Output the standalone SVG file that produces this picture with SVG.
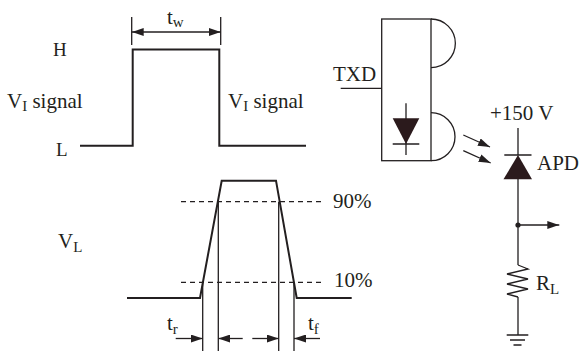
<svg xmlns="http://www.w3.org/2000/svg" width="579" height="351" viewBox="0 0 579 351" font-family="'Liberation Serif', 'DejaVu Serif', serif">
<style>
text{font-family:'Liberation Serif','Times New Roman','DejaVu Serif',serif;font-size:21px;fill:#231f20}
.sub{font-size:15px}
.w{fill:none;stroke:#231f20;stroke-width:2}
.t{fill:none;stroke:#231f20;stroke-width:1.3}
.d{fill:none;stroke:#231f20;stroke-width:1.3;stroke-dasharray:5 4}
.f{fill:#2b1a1c;stroke:none}
</style>
<defs>
<marker id="ah" viewBox="0 0 12 8" refX="12" refY="4" markerWidth="12" markerHeight="8" markerUnits="userSpaceOnUse" orient="auto-start-reverse">
<path d="M0,0 L12,4 L0,8 Z" fill="#231f20"/>
</marker>
</defs>
<rect width="579" height="351" fill="#fff"/>
<g id="input-waveform">
<path class="w" d="M80,145.7 H132.7 V49.5 H219.3 V145.7 H306"/>
<text x="53" y="56" style="font-size:19px">H</text>
<text x="56" y="156" style="font-size:19px">L</text>
<text x="7" y="108">V<tspan class="sub" dy="3">I</tspan><tspan dy="-3"> signal</tspan></text>
<text x="228" y="108">V<tspan class="sub" dy="3">I</tspan><tspan dy="-3"> signal</tspan></text>
</g>
<g id="tw-dimension">
<path class="t" d="M131.7,17 V45 M220.7,17 V45"/>
<text x="167" y="24">t<tspan class="sub" dy="3">w</tspan></text>
</g>
<g id="output-waveform">
<path class="w" d="M127,298 H200 L221.7,180.7 H276 L296.7,298 H351.7"/>
<path class="d" d="M181,201.7 H325 M181,282.3 H325"/>
<text x="333" y="208">90%</text>
<text x="334" y="287">10%</text>
<text x="58" y="248">V<tspan class="sub" dy="4">L</tspan></text>
<path class="t" d="M202.7,282.3 V351 M218.3,201.7 V351 M278.7,201.7 V351 M294,282.3 V351"/>
<text x="167" y="330">t<tspan class="sub" dy="4">r</tspan></text>
<text x="308" y="330">t<tspan class="sub" dy="4">f</tspan></text>
</g>
<g id="led-transmitter">
<rect class="t" x="381.7" y="19" width="49.3" height="141.7"/>
<path class="t" d="M431,19 A24.3,24.3 0 0 1 431,67.7 M431,112.7 A24,24 0 0 1 431,160.7"/>
<path class="t" d="M340.7,88.3 H381.7"/>
<text x="333" y="81">TXD</text>
<path class="t" d="M406,103.3 V155 M392.7,144 H419.3"/>
<polygon class="f" points="392.7,118.3 419.3,118.3 406,144"/>
</g>
<g id="apd-receiver">
<path class="t" d="M518,128 V155 M504.3,155 H531.5 M518,179 V265 M518,297 V335"/>
<polygon class="f" points="518,155 503.5,179.3 532,179.3"/>
<text x="490" y="120">+150 V</text>
<text x="537" y="170">APD</text>
<circle cx="518" cy="225" r="2.6" fill="#231f20"/>
<polyline class="t" points="518,265 528,269 507,274 528,279 507,284 528,289 507,294 518,297"/>
<text x="536" y="290">R<tspan class="sub" dy="4">L</tspan></text>
<path class="t" d="M506.7,335 H528.3 M510,340 H525 M513.5,345 H521.5"/>
</g>
<g id="connectors">
<path class="t" d="M131.7,32 H220.7" marker-start="url(#ah)" marker-end="url(#ah)"/>
<path class="t" d="M175.7,338.5 H202.7" marker-end="url(#ah)"/>
<path class="t" d="M242.7,338.5 H218.3" marker-end="url(#ah)"/>
<path class="t" d="M252.3,338.5 H278.7" marker-end="url(#ah)"/>
<path class="t" d="M320,338.5 H294" marker-end="url(#ah)"/>
<path class="t" d="M463.3,135 L490,147" marker-end="url(#ah)"/>
<path class="t" d="M463.3,150.7 L490.7,163" marker-end="url(#ah)"/>
<path class="t" d="M518,225 H559.3" marker-end="url(#ah)"/>
</g>
</svg>
